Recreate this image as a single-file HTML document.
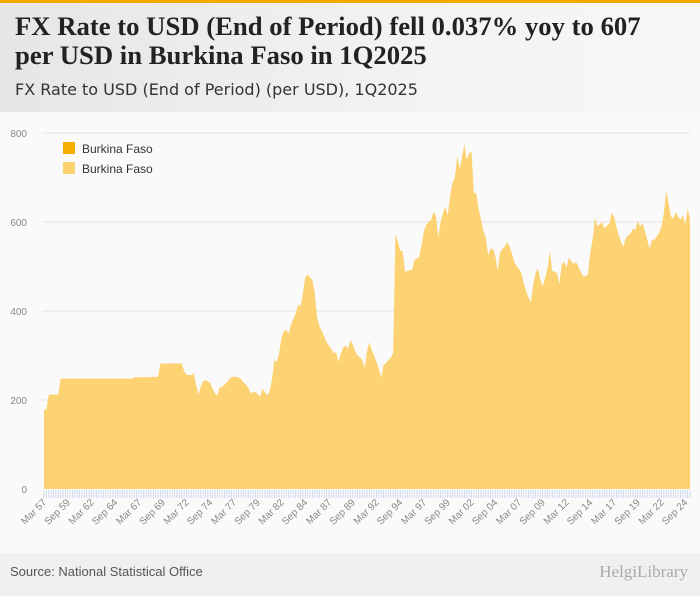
<!DOCTYPE html>
<html><head><meta charset="utf-8"><style>
body{margin:0;width:700px;height:596px;background:#fafafa;font-family:"Liberation Sans",sans-serif;overflow:hidden;position:relative}
#hdr{position:absolute;left:0;top:0;width:700px;height:112px;background:linear-gradient(to right,#e6e6e6,#f3f3f3 60%,#f7f7f7)}
#t{position:absolute;left:15px;top:12px;font-family:"Liberation Serif",serif;font-weight:bold;font-size:26.7px;line-height:29px;color:#222}
#st{position:absolute;left:15px;top:80px;font-family:"DejaVu Sans",sans-serif;font-size:16px;color:#333}
#foot{position:absolute;left:0;top:553px;width:700px;height:43px;background:#f0f0f0}
#src{position:absolute;left:10px;top:564px;font-size:13px;color:#555}
#logo{position:absolute;right:12px;top:562px;font-size:17px;color:#aaa;font-family:"Liberation Serif",serif}
#topbar{position:absolute;left:0;top:0;width:700px;height:3px;background:#f6a800}
</style></head><body>
<div id="hdr"></div>
<div id="topbar"></div>
<div id="t">FX Rate to USD (End of Period) fell 0.037% yoy to 607<br>per USD in Burkina Faso in 1Q2025</div>
<div id="st">FX Rate to USD (End of Period) (per USD), 1Q2025</div>
<svg id="chart" width="700" height="596" style="position:absolute;left:0;top:0"></svg>
<div id="foot"></div>
<div id="src">Source: National Statistical Office</div>
<div id="logo">HelgiLibrary</div>
<script>
const yTicks=[0,200,400,600,800];
const startYear=1957;
const values=[178,178,212,212,212,212,212,248,
248,248,248,248,248,248,248,248,248,248,248,248,248,248,248,248,248,248,248,248,248,248,248,248,248,248,248,248,248,248,
251,251,251,251,251,251,251,252,252,252,252,
282,282,282,282,282,282,282,282,282,282,
265,257,256,256,260,235,212,230,242,245,242,238,225,215,210,228,230,234,240,246,
252,252,252,250,247,240,235,228,215,218,218,214,207,225,218,210,220,245,290,285,
305,340,355,358,348,370,382,395,415,410,440,475,482,475,470,440,385,365,355,342,
330,322,315,305,308,285,305,318,322,315,335,325,310,300,296,290,272,310,330,312,
300,285,270,250,280,282,290,295,305,575,555,535,535,488,490,492,492,515,518,522,
550,580,595,600,605,622,615,565,600,620,635,615,660,688,700,748,720,745,775,740,
755,758,665,665,630,605,580,565,525,540,540,525,490,530,540,545,555,545,530,510,
500,495,485,462,445,430,420,460,485,495,470,455,475,495,535,490,488,485,460,505,
510,498,520,512,505,510,500,488,478,478,482,530,560,610,590,595,600,585,592,595,
620,612,590,570,555,545,565,570,575,585,582,602,590,598,580,560,540,560,560,568,
575,590,620,672,640,612,608,622,612,605,615,595,630,607];
const NS="http://www.w3.org/2000/svg";
const svg=document.getElementById('chart');
const x0=44,x1=690,yb=489,yt=133;
const n=values.length;
const X=i=>x0+i*(x1-x0)/(n-1);
const Y=v=>yb-v*(yb-yt)/800;
function mk(t,a){const e=document.createElementNS(NS,t);for(const k in a)e.setAttribute(k,a[k]);svg.appendChild(e);return e;}
yTicks.forEach(v=>{
 if(v>0){const g=mk('line',{x1:42,x2:690,y1:Y(v),y2:Y(v),stroke:'#e2e2e2','stroke-width':1});
 
 }
 const t=mk('text',{x:27,y:Y(v)+4,'text-anchor':'end','font-size':10,fill:'#888'});
 
 
 t.textContent=v;
});
let d='M'+X(0)+','+yb;
values.forEach((v,i)=>{d+=' L'+X(i).toFixed(2)+','+Y(v).toFixed(2);});
d+=' L'+X(n-1)+','+yb+' Z';
const area=mk('path',{d:d,fill:'#fdd272'});


const mon=['Mar','Jun','Sep','Dec'];
for(let i=0;i<n;i++){
 const tk=mk('line',{x1:X(i),x2:X(i),y1:490,y2:498,stroke:'#c5d3ea','stroke-width':0.8});
 
 
 if(i%10===0){
  const yr=startYear+Math.floor(i/4);
  const lab=mon[i%4]+' '+String(yr%100).padStart(2,'0');
  const t=mk('text',{x:X(i)+3,y:503,'text-anchor':'end','font-size':10,fill:'#888',transform:'rotate(-45 '+(X(i)+3)+' 503)'});
  
  
  t.textContent=lab;
 }
}
[['#f6ac00',148],['#fdd272',168]].forEach(([c,y],k)=>{
 const r=mk('rect',{x:63,y:y-6,width:12,height:12,fill:c});
 
 
 const t=mk('text',{x:82,y:y+5,'font-size':12,fill:'#333'});
 
 
 t.textContent='Burkina Faso';
});
</script>
</body></html>
